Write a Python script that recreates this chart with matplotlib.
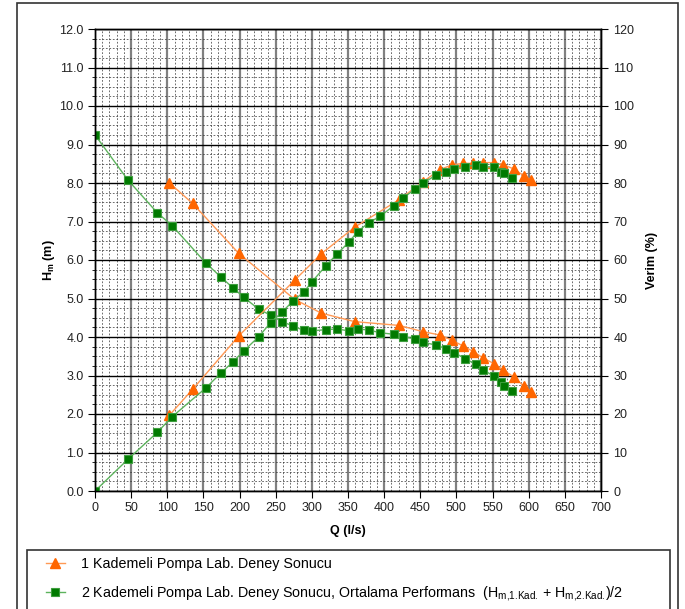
import numpy as np
import matplotlib
matplotlib.use("Agg")
import matplotlib.pyplot as plt
from matplotlib.ticker import MultipleLocator, FormatStrFormatter
from matplotlib.patches import Rectangle

plt.rcParams['font.family'] = ['Liberation Sans', 'DejaVu Sans']
plt.rcParams['mathtext.fontset'] = 'custom'
plt.rcParams['mathtext.rm'] = 'Liberation Sans'
plt.rcParams['mathtext.it'] = 'Liberation Sans:italic'
plt.rcParams['mathtext.bf'] = 'Liberation Sans:bold'
plt.rcParams['mathtext.default'] = 'regular'

# 1 Kademeli pompa (orange triangles)
q1 = [103, 135, 199, 276, 313, 359, 421, 453.5, 477.5, 493.6, 508.8, 523.6,
      536.5, 552.6, 565, 580.3, 592.8, 603.4]
h1 = [8.00, 7.47, 6.17, 4.98, 4.62, 4.40, 4.30, 4.14, 4.05, 3.92, 3.77, 3.62,
      3.46, 3.30, 3.14, 2.95, 2.73, 2.58]
eff1 = [19.7, 26.4, 40.3, 54.7, 61.6, 68.5, 75.7, 80.3, 83.5, 84.7, 85.1, 85.1,
        85.3, 85.3, 84.7, 83.6, 81.9, 80.8]

# 2 Kademeli pompa, ortalama (green squares)
q2 = [0, 45.4, 86, 106.8, 152.9, 174.6, 190.6, 205.9, 226.6, 242.8,
      258.4, 273.6, 288.9, 300.4, 318.9, 334.5, 351, 363.5, 378.8, 394.9,
      413.3, 426.7, 442.9, 454.4, 472, 485, 497.3, 512.1, 526.4, 537.4,
      551.3, 561.9, 565.5, 576.6]
h2 = [9.25, 8.08, 7.23, 6.89, 5.93, 5.55, 5.28, 5.03, 4.72, 4.57,
      4.40, 4.29, 4.17, 4.16, 4.19, 4.21, 4.16, 4.21, 4.18, 4.11,
      4.07, 4.01, 3.95, 3.86, 3.79, 3.70, 3.59, 3.44, 3.29, 3.14,
      2.99, 2.82, 2.74, 2.61]
eff2 = [0, 8.2, 15.2, 19.3, 26.7, 30.7, 33.5, 36.4, 40.1, 43.7,
        46.4, 49.3, 51.7, 54.4, 58.4, 61.5, 64.6, 67.4, 69.7, 71.4,
        74.1, 76.2, 78.4, 80.0, 82.1, 82.9, 83.6, 84.2, 84.7, 84.2,
        84.2, 82.9, 82.5, 81.2]

label1 = '1 Kademeli Pompa Lab. Deney Sonucu'
label2 = ('2 Kademeli Pompa Lab. Deney Sonucu, Ortalama Performans  '
          r'(H$_{\text{m,1.Kad.}}$ + H$_{\text{m,2.Kad.}}$)/2')

fig = plt.figure(figsize=(6.85, 6.09), dpi=100)
ax = fig.add_axes([95/685, 1 - 491/609, 506/685, 462/609])
ax2 = ax.twinx()

# grid
ax.set_axisbelow(True)
ax.xaxis.set_major_locator(MultipleLocator(50))
ax.xaxis.set_minor_locator(MultipleLocator(10))
ax.yaxis.set_major_locator(MultipleLocator(1))
ax.yaxis.set_minor_locator(MultipleLocator(0.25))
ax.grid(which='minor', color='#333333', linestyle=(0, (2.5, 2.5)), linewidth=0.5)
ax.xaxis.grid(which='major', color='#808080', linewidth=1.6)
ax.yaxis.grid(which='major', color='black', linewidth=1.0)

orange_line = '#FF9955'
orange_mk = '#FF6600'
green_line = '#5DB35D'
green_mk = '#007A00'

ax.plot(q1, h1, color=orange_line, lw=1, marker='^', ms=7,
        mfc=orange_mk, mec=orange_mk, label=label1)
ax.plot(q2, h2, color=green_line, lw=1, marker='s', ms=6,
        mfc=green_mk, mec='#3E9E3E', mew=0.8, label=label2)
ax2.plot(q1, eff1, color=orange_line, lw=1, marker='^', ms=7,
         mfc=orange_mk, mec=orange_mk)
ax2.plot(q2, eff2, color=green_line, lw=1, marker='s', ms=6,
         mfc=green_mk, mec='#3E9E3E', mew=0.8)

ax.set_xlim(0, 700)
ax.set_ylim(0, 12)
ax2.set_ylim(0, 120)
ax2.yaxis.set_major_locator(MultipleLocator(10))
ax.yaxis.set_major_formatter(FormatStrFormatter('%.1f'))

for a in (ax, ax2):
    for s in a.spines.values():
        s.set_linewidth(1.0)
        s.set_color('black')

ax.tick_params(which='major', direction='out', length=5, width=0.8,
               labelsize=9, labelcolor='#222222', pad=3)
ax.tick_params(which='minor', direction='out', length=2.5, width=0.6)
ax.tick_params(axis='x', which='minor', length=0)
ax2.tick_params(which='major', direction='out', length=5, width=0.8,
                labelsize=9, labelcolor='#222222', pad=4)

ax.set_xlabel('Q (l/s)', fontsize=9, fontweight='bold', labelpad=8)
ax.set_ylabel(r'H$_\mathbf{m}$ (m)', fontsize=9, fontweight='bold', labelpad=2)
ax2.set_ylabel('Verim (%)', fontsize=9, fontweight='bold', labelpad=8)

# outer frame and legend box (both run past the bottom edge)
fig.add_artist(Rectangle((17/685, -0.1), (678 - 17)/685, 1.1 - 3/609,
                         transform=fig.transFigure, fill=False,
                         edgecolor='#333333', lw=1.2))
fig.add_artist(Rectangle((27/685, -0.1), (670 - 27)/685, 0.1 + 59/609,
                         transform=fig.transFigure, fill=False,
                         edgecolor='#333333', lw=1.2))

fig.legend(loc='upper left', bbox_to_anchor=(46/685, 1 - 557/609),
           frameon=False, fontsize=10.3, handlelength=1.3, handletextpad=1.15,
           labelspacing=0.9, borderaxespad=0, borderpad=0)

fig.savefig('out.png', dpi=100)
